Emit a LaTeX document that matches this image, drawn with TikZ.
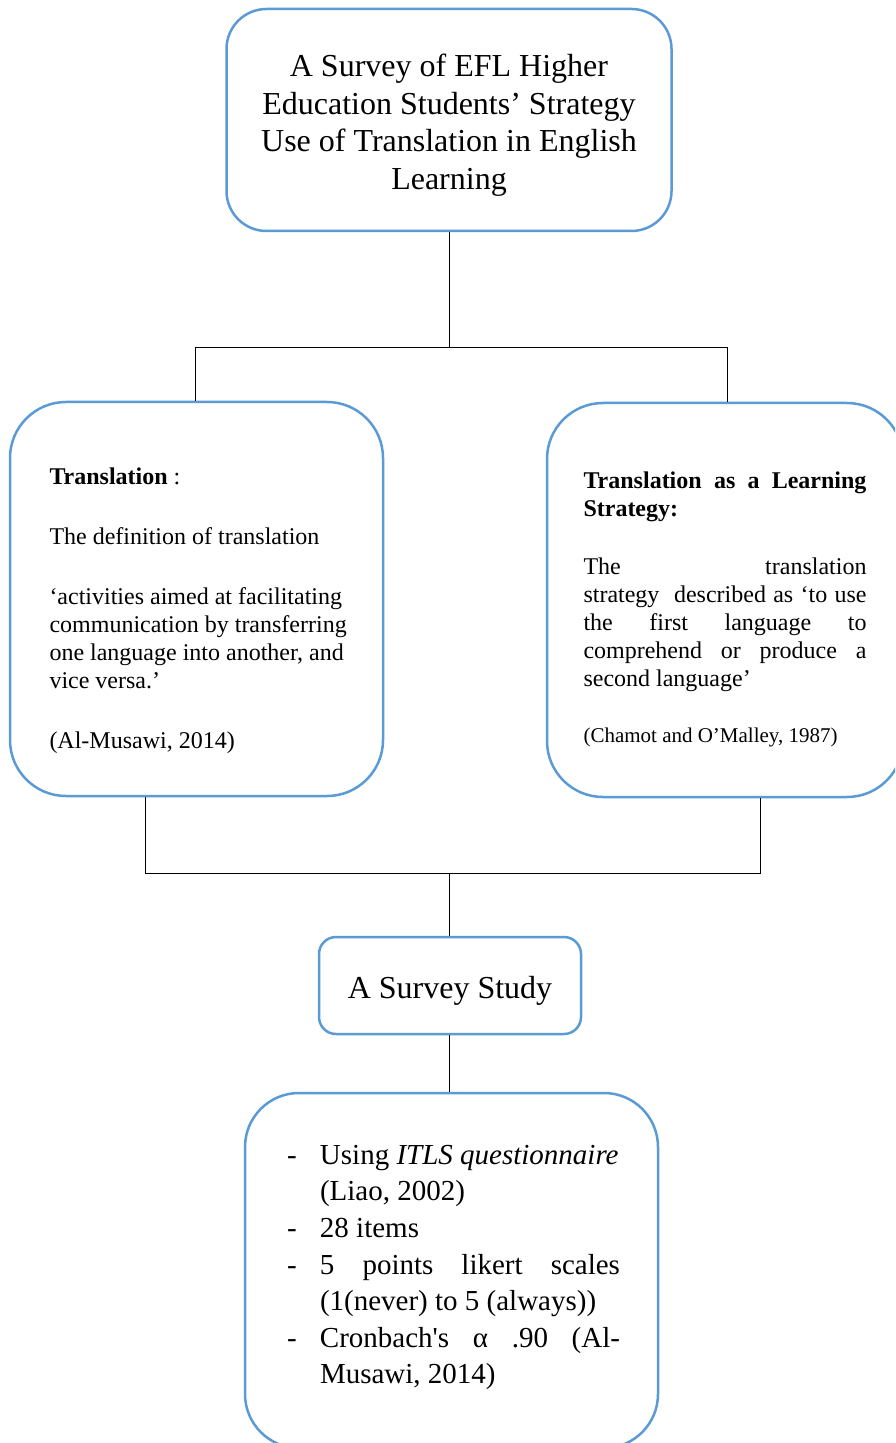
\documentclass[tikz,border=0pt]{standalone}
\usepackage{fontspec}
\setmainfont{Liberation Serif}
\definecolor{boxblue}{RGB}{91,155,213}
\newcommand{\jline}[1]{\makebox[\linewidth][s]{#1}}
\newcommand{\itemline}[1]{\makebox[16.5pt][l]{-}\mbox{#1}}
\newcommand{\contline}[1]{\hspace*{16.5pt}\mbox{#1}}
\newcommand{\dropbox}[2]{\raisebox{-#1}[\height][\depth]{#2}}
\tikzset{
  box/.style={draw=boxblue,line width=1.25pt,fill=white,rectangle},
  link/.style={line width=0.5pt}
}
\begin{document}
\begin{tikzpicture}[x=0.5pt,y=-0.5pt]
	\useasboundingbox (0,0) rectangle (895,1443);
	\clip (0,0) rectangle (895,1443);
	\fill[white] (0,0) rectangle (895,1443);
	% boxes
	\node[box,rounded corners=20pt,minimum width=222.5pt,minimum height=111pt,
		font=\fontsize{16}{18.8}\selectfont] (T) at (449,120)
		{\dropbox{2.5pt}{\parbox{210pt}{\centering A Survey of EFL Higher\\ Education Students’ Strategy\\ Use of Translation in English\\ Learning}}};
	\node[box,rounded corners=28pt,minimum width=186.5pt,minimum height=197pt,
		font=\fontsize{12}{14}\selectfont] (L) at (196.5,599)
		{\dropbox{6pt}{\parbox{147pt}{\raggedright
		\textbf{Translation} :\\[16pt]
		The definition of translation\\[16pt]
		‘activities aimed at facilitating\\
		\mbox{communication by transferring}\\
		\mbox{one language into another, and}\\
		vice versa.’\\[16pt]
		(Al-Musawi, 2014)}}};
	\node[box,rounded corners=28pt,minimum width=178pt,minimum height=197pt,
		font=\fontsize{12}{14}\selectfont] (R) at (725,600)
		{\dropbox{4.5pt}{\parbox{141.5pt}{\raggedright
		\jline{\textbf{Translation as a Learning}}\\
		\textbf{Strategy:}\\[15pt]
		\jline{The translation}\\
		\jline{strategy\ \ described as ‘to use}\\
		\jline{the first language to}\\
		\jline{comprehend or produce a}\\
		second language’\\[14pt]
		{\fontsize{10.5}{12}\selectfont (Chamot and O’Malley, 1987)}}}};
	\node[box,rounded corners=8.5pt,minimum width=131pt,minimum height=48.5pt,
		font=\fontsize{16}{18.8}\selectfont] (S) at (450,985.5) {\dropbox{2.5pt}{A Survey Study}};
	\node[box,rounded corners=27pt,minimum width=206.5pt,minimum height=177.5pt,
		font=\fontsize{14.5}{18.3}\selectfont] (M) at (451.5,1270.5)
		{\dropbox{-1.5pt}{\parbox{164.5pt}{\raggedright
		\itemline{Using \textit{ITLS questionnaire}}\\
		\contline{(Liao, 2002)}\\
		\itemline{28 items}\\
		\itemline{\makebox[150pt][s]{5 points likert scales}}\\
		\contline{(1(never) to 5 (always))}\\
		\itemline{\makebox[150pt][s]{Cronbach\textquotesingle s α .90 (Al-}}\\
		\contline{Musawi, 2014)}}}};
	% connectors
	\coordinate (A) at (449,348);
	\coordinate (B) at (195,348);
	\coordinate (C) at (727,348);
	\coordinate (D) at (145,873);
	\coordinate (E) at (760,873);
	\coordinate (F) at (449,873);
	\draw[link] (T.south -| A) to (A);
	\draw[link] (B |- L.north) to (B) to (C) to (C |- R.north);
	\draw[link] (D |- L.south) to (D) to (E) to (E |- R.south);
	\draw[link] (F) to (S.north -| F);
	\draw[link] (S.south -| F) to (M.north -| F);
\end{tikzpicture}
\end{document}
